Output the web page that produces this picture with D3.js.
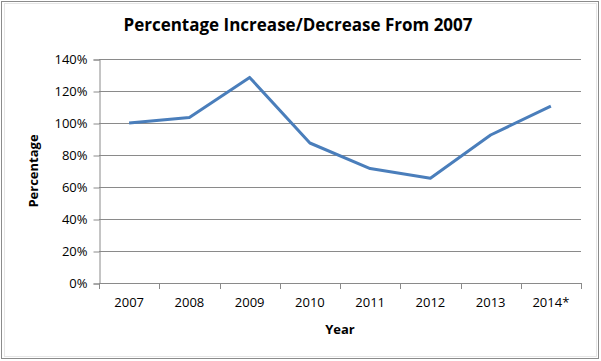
<!DOCTYPE html>
<html>
<head>
<meta charset="utf-8">
<script src="https://cdn.jsdelivr.net/npm/d3@7"></script>
<style>
  body { margin: 0; background: #fff; }
  text { font-family: "Open Sans", "Liberation Sans", Arial, sans-serif; fill: #000; }
</style>
</head>
<body>
<svg width="601" height="361"></svg>
<script>
// data
var years = ["2007", "2008", "2009", "2010", "2011", "2012", "2013", "2014*"];
var pct = [100, 103.5, 128.5, 87.5, 71.5, 65.5, 92.5, 110.5];
var yTicks = [0, 20, 40, 60, 80, 100, 120, 140];

var svg = d3.select("svg"),
  width = +svg.attr("width"),
  height = +svg.attr("height");

var pLeft = 99, pRight = 581, pTop = 59, pBottom = 283;

// chart frame
svg.append("rect")
  .attr("x", 1.5).attr("y", 1.5)
  .attr("width", 597).attr("height", 357)
  .attr("fill", "#fff")
  .attr("stroke", "#8c8c8c");
svg.append("rect")
  .attr("x", 4.5).attr("y", 3.5)
  .attr("width", 592).attr("height", 353)
  .attr("fill", "none")
  .attr("stroke", "#e6e6e6");

var x = d3.scaleBand().domain(years).range([pLeft, pRight]);
var y = d3.scaleLinear().domain([0, 140]).range([pBottom, pTop]);

// gridlines
svg.append("g")
  .selectAll("line")
  .data(yTicks.slice(1))
  .enter()
  .append("line")
    .attr("x1", pLeft).attr("x2", pRight)
    .attr("y1", function(d) { return Math.round(y(d)) + 0.5; })
    .attr("y2", function(d) { return Math.round(y(d)) + 0.5; })
    .attr("stroke", "#8a8a8a");

// y axis
var yAxis = svg.append("g")
  .attr("transform", "translate(" + (pLeft + 0.5) + ",0.5)")
  .call(d3.axisLeft(y).tickValues(yTicks).tickSize(6).tickPadding(6)
    .tickFormat(function(d) { return d + "%"; }));
yAxis.selectAll("line, path").attr("stroke", "#8a8a8a");
yAxis.selectAll("text").style("font-size", "13px").attr("fill", "#000");

// x axis, ticks between categories
var xAxis = svg.append("g")
  .attr("transform", "translate(0," + (pBottom + 0.5) + ")")
  .call(d3.axisBottom(x).tickSize(0).tickPadding(14));
xAxis.select(".domain").attr("stroke", "#8a8a8a").attr("d", "M" + pLeft + ",0H" + pRight);
xAxis.selectAll("text").style("font-size", "13px").attr("fill", "#000");
svg.append("g")
  .selectAll("line")
  .data(years.concat(["end"]))
  .enter()
  .append("line")
    .attr("x1", function(d, i) { return Math.round(pLeft + i * x.step()) + 0.5; })
    .attr("x2", function(d, i) { return Math.round(pLeft + i * x.step()) + 0.5; })
    .attr("y1", pBottom).attr("y2", pBottom + 6)
    .attr("stroke", "#8a8a8a");

// the line
var line = d3.line()
  .x(function(d, i) { return x(years[i]) + x.bandwidth() / 2; })
  .y(function(d) { return y(d); });

svg.append("path")
  .datum(pct)
  .attr("d", line)
  .attr("fill", "none")
  .attr("stroke", "#4a7ebb")
  .attr("stroke-width", 3)
  .attr("stroke-linejoin", "round");

// titles
svg.append("text")
  .attr("x", 298).attr("y", 31)
  .attr("text-anchor", "middle")
  .style("font-size", "17px").style("font-weight", "bold")
  .text("Percentage Increase/Decrease From 2007");

svg.append("text")
  .attr("x", (pLeft + pRight) / 2).attr("y", 334)
  .attr("text-anchor", "middle")
  .style("font-size", "13px").style("font-weight", "bold")
  .text("Year");

svg.append("text")
  .attr("transform", "translate(38," + (pTop + pBottom) / 2 + ") rotate(-90)")
  .attr("text-anchor", "middle")
  .style("font-size", "13px").style("font-weight", "bold")
  .text("Percentage");
</script>
</body>
</html>
